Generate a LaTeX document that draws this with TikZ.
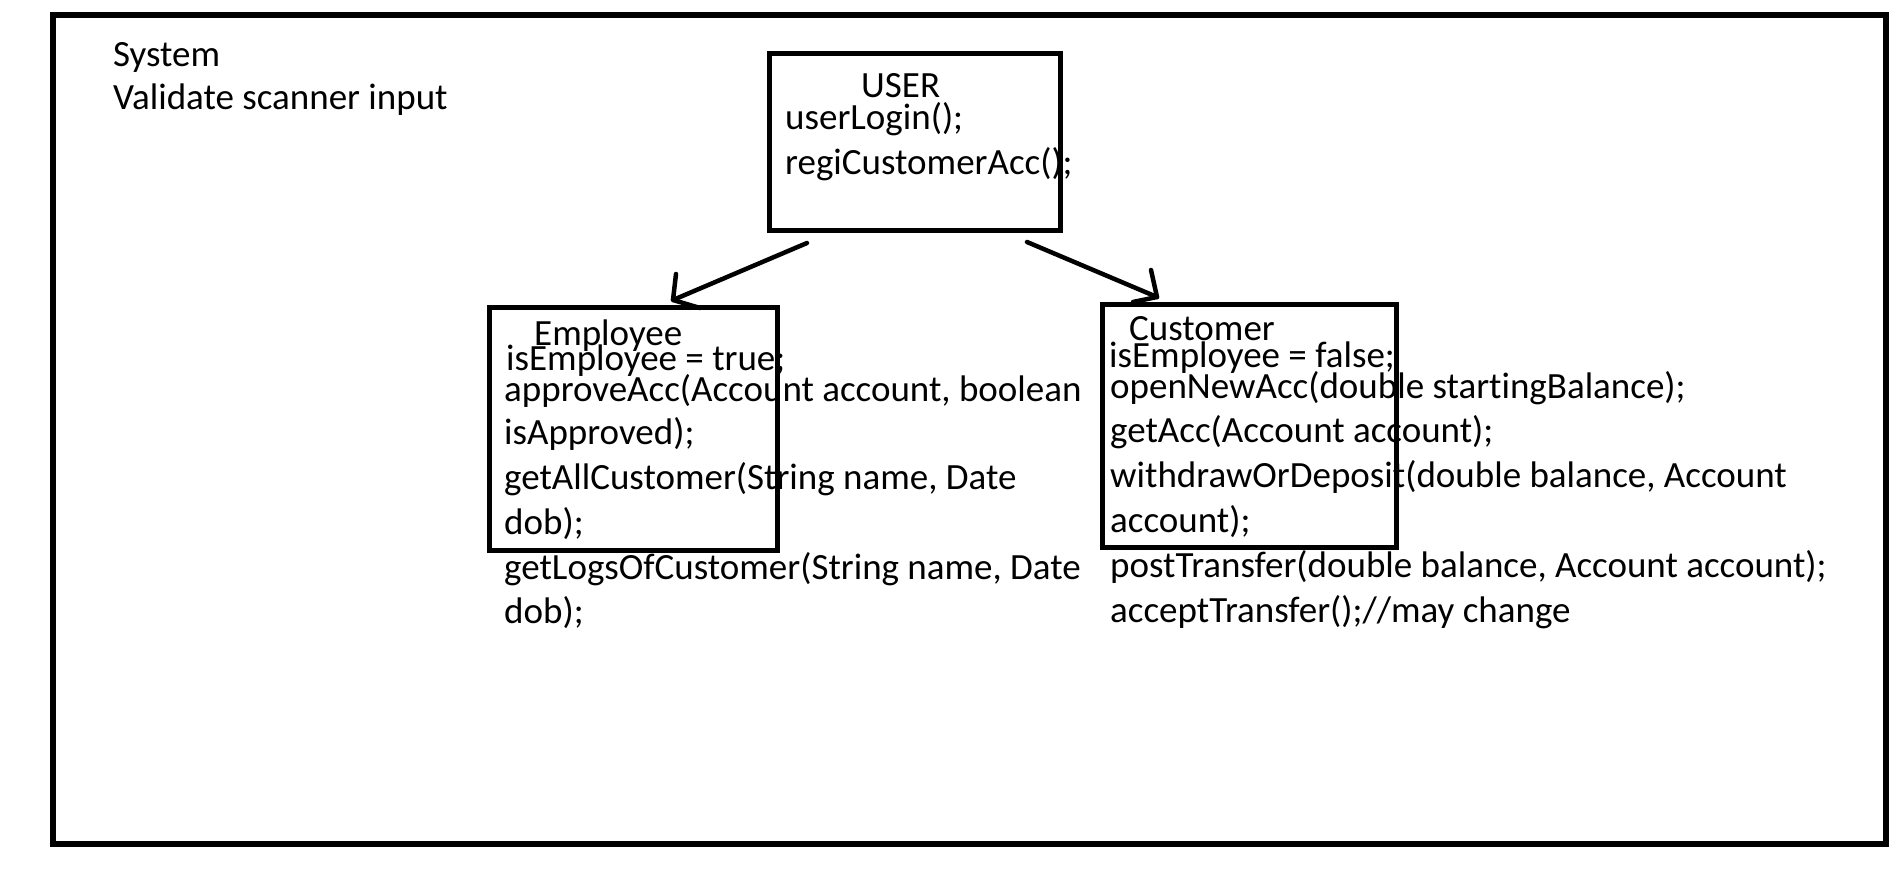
\documentclass[tikz,border=0pt]{standalone}
\usepackage{fontspec}
\setmainfont{Carlito}[RawFeature={-liga;-clig}]
\begin{document}
\begin{tikzpicture}[x=1pt,y=-1pt,
  txt/.style={font=\fontsize{37}{44}\selectfont, inner sep=0pt, anchor=base west},
  frame/.style={draw=black, line width=5.5pt},
  boxline/.style={draw=black, line width=5pt},
  conn/.style={draw=black, line width=4.5pt, line cap=round, line join=round}]
\useasboundingbox (0,0) rectangle (1904,870);
\fill[white] (0,0) rectangle (1904,870);
% outer frame
\node[frame, minimum width=1833pt, minimum height=829pt, inner sep=0pt, anchor=north west] (sys) at (50,12) {};
\node[txt] (t1) at (113,66) {System};
\node[txt] (t2) at (113,109) {Validate scanner input};
% USER box
\node[boxline, minimum width=291pt, minimum height=177pt, inner sep=0pt, anchor=north west] (user) at (767,51) {};
\node[txt] (u0) at (861,97) {USER};
\node[txt] (u1) at (785,129) {userLogin();};
\node[txt] (u2) at (785,174) {regiCustomerAcc();};
% Employee box
\node[boxline, minimum width=288pt, minimum height=243pt, inner sep=0pt, anchor=north west] (emp) at (487,305) {};
\node[txt] (e0) at (534,345) {Employee};
\node[txt] (e1) at (506,370) {isEmployee = true;};
\node[txt] (e2) at (504,401) {approveAcc(Account account, boolean};
\node[txt] (e3) at (504,444) {isApproved);};
\node[txt] (e4) at (504,489) {getAllCustomer(String name, Date};
\node[txt] (e5) at (504,534) {dob);};
\node[txt] (e6) at (504,579) {getLogsOfCustomer(String name, Date};
\node[txt] (e7) at (504,623) {dob);};
% Customer box
\node[boxline, minimum width=294pt, minimum height=243pt, inner sep=0pt, anchor=north west] (cus) at (1100,302) {};
\node[txt] (c0) at (1129,340) {Customer};
\node[txt] (c1) at (1109,367) {isEmployee = false;};
\node[txt] (c2) at (1110,398) {openNewAcc(double startingBalance);};
\node[txt] (c3) at (1110,442) {getAcc(Account account);};
\node[txt] (c4) at (1110,487) {withdrawOrDeposit(double balance, Account};
\node[txt] (c5) at (1110,532) {account);};
\node[txt] (c6) at (1110,577) {postTransfer(double balance, Account account);};
\node[txt] (c7) at (1110,622) {acceptTransfer();//may change};
% arrows
\coordinate (ls) at (807,243);
\coordinate (lt) at (673,300);
\coordinate (la1) at (676,274);
\coordinate (la2) at (700,308);
\draw[conn] (ls) -- (lt);
\draw[conn] (la1) -- (lt) -- (la2);
\coordinate (rs) at (1027,242);
\coordinate (rt) at (1157,297);
\coordinate (ra1) at (1151,270);
\coordinate (ra2) at (1133,302);
\draw[conn] (rs) -- (rt);
\draw[conn] (ra1) -- (rt) -- (ra2);
\end{tikzpicture}
\end{document}
